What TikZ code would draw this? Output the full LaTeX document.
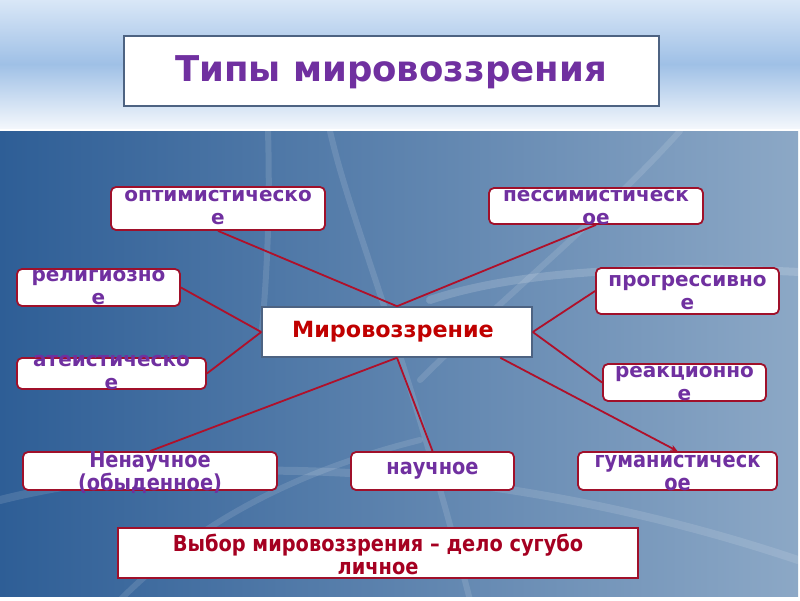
\documentclass[tikz,border=0pt]{standalone}
\usepackage{fontspec}
\setmainfont{DejaVu Sans}
\newfontfamily\narrowfont[FakeStretch=0.88]{DejaVu Sans}
\usetikzlibrary{arrows.meta}
\definecolor{purp}{HTML}{7030A0}
\definecolor{redtxt}{HTML}{C00000}
\definecolor{darkred}{HTML}{A50021}
\definecolor{boxred}{HTML}{A0102A}
\definecolor{linered}{HTML}{B0102A}
\definecolor{slate}{HTML}{4D6382}
\definecolor{bgL}{HTML}{2E5E96}
\definecolor{bgR}{HTML}{8CA8C6}
\definecolor{topA}{HTML}{D9E7F7}
\definecolor{topB}{HTML}{9FC0E6}
\definecolor{topC}{HTML}{F3F7FC}
\tikzset{
  box/.style={draw=boxred, line width=1.8pt, fill=white, rounded corners=5pt, inner sep=0pt},
  purptext/.style={text=purp, font=\bfseries\fontsize{20}{23}\selectfont, align=center, inner sep=0pt},
  narrowtext/.style={text=purp, font=\narrowfont\bfseries\fontsize{22}{23}\selectfont, align=center, inner sep=0pt},
  conn/.style={draw=linered, line width=1.8pt},
  streak/.style={white, line width=6pt, opacity=0.12, line cap=round}
}
\begin{document}
\begin{tikzpicture}[x=1pt,y=-1pt]
\useasboundingbox (0,0) rectangle (800,600);
\fill[white] (0,0) rectangle (800,600);
% top band
\shade[top color=topA, bottom color=topC, middle color=topB] (0,0) rectangle (800,128);
% main area
\shade[left color=bgL, right color=bgR] (0,131) rectangle (798,596);
% light streaks
\draw[streak] (268,131) .. controls (270,200) and (268,260) .. (262,330);
\draw[streak] (330,131) .. controls (350,220) and (400,330) .. (470,600);
\draw[streak] (680,131) .. controls (600,220) and (500,300) .. (420,380);
\draw[streak, line width=8pt, opacity=0.16] (800,272) .. controls (650,265) and (520,270) .. (430,300);
\draw[streak, line width=8pt] (0,500) .. controls (200,450) and (500,460) .. (798,560);
\draw[streak] (120,600) .. controls (200,520) and (300,470) .. (420,440);

% title
\node[draw=slate, line width=2pt, fill=white, minimum width=535pt, minimum height=70pt, inner sep=0pt] (title) at (391.5,71) {};
\node[text=purp, font=\bfseries\fontsize{35.5}{40}\selectfont, inner sep=0pt] (titletext) at (391,72) {Типы мировоззрения};

% center
\node[draw=slate, line width=1.5pt, fill=white, minimum width=270pt, minimum height=50pt, inner sep=0pt] (mw) at (397,332) {};
\node[text=redtxt, font=\bfseries\fontsize{22.3}{26}\selectfont, inner sep=0pt] (mwtext) at (393,332) {Мировоззрение};

% boxes
\node[box, minimum width=214pt, minimum height=43pt] (opt) at (218,208.5) {};
\node[box, minimum width=214pt, minimum height=36pt] (pess) at (596,206) {};
\node[box, minimum width=163pt, minimum height=37pt] (rel) at (98.5,287.5) {};
\node[box, minimum width=189pt, minimum height=31pt] (ath) at (111.5,373.5) {};
\node[box, minimum width=183pt, minimum height=46pt] (prog) at (687.5,291) {};
\node[box, minimum width=163pt, minimum height=37pt] (react) at (684.5,382.5) {};
\node[box, minimum width=254pt, minimum height=38pt] (non) at (150,471) {};
\node[box, minimum width=163pt, minimum height=38pt] (sci) at (432.5,471) {};
\node[box, minimum width=199pt, minimum height=38pt] (hum) at (677.5,471) {};
\node[draw=boxred, line width=2pt, fill=white, minimum width=520pt, minimum height=50pt, inner sep=0pt] (choice) at (378,553) {};

% connectors
\draw[conn] (opt.south) -- (mw.north);
\draw[conn] (pess.south) -- (mw.north);
\draw[conn] (rel.east) -- (mw.west);
\draw[conn] (ath.east) -- (mw.west);
\draw[conn] (prog.west) -- (mw.east);
\draw[conn] (react.west) -- (mw.east);
\draw[conn] (mw.south) -- (non.north);
\draw[conn] (mw.south) -- (sci.north);
\draw[conn, -{Stealth[length=7pt,width=6pt]}] (mw.-14.6) -- (hum.north);

% texts
\node[purptext] (opttext) at (218,208) {оптимистическо\\е};
\node[purptext] (pesstext) at (596,208) {пессимистическ\\ое};
\node[purptext] (reltext) at (98.5,287.5) {религиозно\\е};
\node[purptext] (athtext) at (111.5,373) {атеистическо\\е};
\node[purptext] (progtext) at (687.5,293) {прогрессивно\\е};
\node[purptext] (reacttext) at (684.5,384) {реакционно\\е};
\node[narrowtext] (nontext) at (150,472) {Ненаучное\\(обыденное)};
\node[narrowtext] (scitext) at (432.5,471) {научное};
\node[narrowtext] (humtext) at (677.5,473) {гуманистическ\\ое};
\node[narrowtext, text=darkred] (choicetext) at (378,554) {Выбор мировоззрения – дело сугубо\\личное};
\end{tikzpicture}
\end{document}
